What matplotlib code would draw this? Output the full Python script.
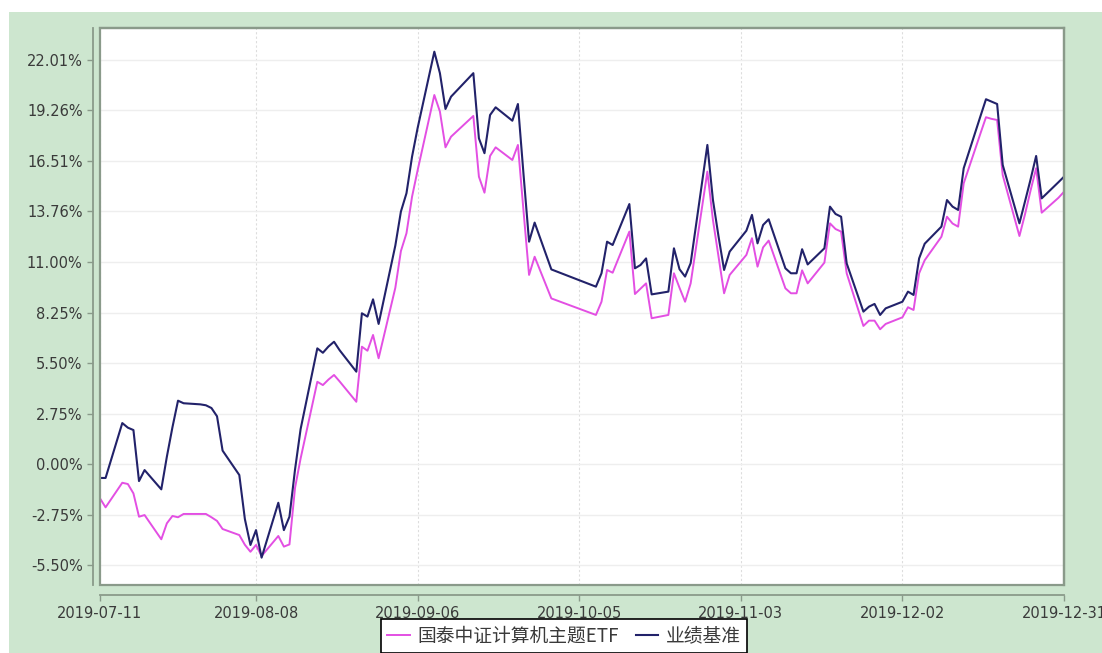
import numpy as np
import pandas as pd
import matplotlib
matplotlib.use("Agg")
import matplotlib.pyplot as plt
import matplotlib.dates as mdates
from matplotlib.patches import Rectangle

plt.rcParams['font.family'] = ['DejaVu Sans', 'Noto Sans CJK SC']

# trading days (SSE calendar: Mid-Autumn and National Day closed)
holidays = ['2019-09-13', '2019-10-01', '2019-10-02', '2019-10-03',
            '2019-10-04', '2019-10-07']
dates = pd.bdate_range('2019-07-11', '2019-12-31', freq='C', holidays=holidays)

# cumulative return, %
fund = [
    -1.87, -2.36, -1.02, -1.09, -1.60, -2.87, -2.78, -4.10, -3.23, -2.83, -2.90, -2.72, -2.72, -2.72, -2.90,
    -3.10, -3.54, -3.87, -4.40, -4.78, -4.41, -5.01, -3.92, -4.50, -4.38, -1.30, 0.30, 4.48, 4.30, 4.60,
    4.85, 4.50, 3.39, 6.39, 6.17, 7.03, 5.76,
    9.60, 11.60, 12.57, 14.56, 16.00, 20.10, 19.20, 17.25, 17.83, 18.96, 15.65, 14.78, 16.78, 17.25, 16.56,
    17.38, 13.80, 10.30, 11.29, 9.02,
    8.12, 8.84, 10.57, 10.42, 12.66, 9.26, 9.55, 9.84, 7.94, 8.12, 10.39, 9.60, 8.84, 9.84, 15.93, 13.29,
    11.30, 9.30,
    10.30, 11.39, 12.30, 10.75, 11.80, 12.17, 9.57, 9.30, 9.30, 10.55, 9.84, 10.97, 13.11, 12.80, 12.66,
    10.39, 7.52, 7.81, 7.81, 7.34, 7.63,
    7.99, 8.54, 8.39, 10.39, 11.10, 12.38, 13.47, 13.10, 12.93, 15.29, 18.00, 18.89, 18.80, 18.74, 15.74,
    12.42, 13.60, 14.90, 16.11, 13.69, 14.50, 14.83,
]
bench = [
    -0.76, -0.76, 2.23, 1.98, 1.85, -0.93, -0.33, -1.38, 0.40, 2.00, 3.45, 3.31, 3.25, 3.20, 3.05,
    2.60, 0.73, -0.60, -3.00, -4.41, -3.60, -5.10, -2.11, -3.60, -2.87, -0.30, 1.90, 6.30, 6.06, 6.40,
    6.66, 6.20, 5.03, 8.21, 8.03, 8.97, 7.63,
    11.90, 13.75, 14.75, 16.74, 18.30, 22.46, 21.29, 19.34, 20.01, 21.29, 17.74, 16.93, 19.01, 19.43, 18.70,
    19.61, 15.80, 12.11, 13.15, 10.60,
    9.66, 10.39, 12.11, 11.93, 14.16, 10.66, 10.84, 11.20, 9.24, 9.39, 11.75, 10.61, 10.21, 10.94, 17.38,
    14.38, 12.40, 10.57,
    11.57, 12.71, 13.57, 12.02, 13.02, 13.33, 10.66, 10.39, 10.39, 11.70, 10.87, 11.75, 14.02, 13.62, 13.47,
    10.93, 8.30, 8.57, 8.72, 8.12, 8.48,
    8.84, 9.39, 9.21, 11.20, 12.00, 12.93, 14.38, 14.02, 13.84, 16.11, 18.94, 19.87, 19.74, 19.61, 16.29,
    13.11, 14.30, 15.50, 16.78, 14.47, 15.35, 15.65,
]

yticks = [22.01, 19.26, 16.51, 13.76, 11.00, 8.25, 5.50, 2.75, 0.00, -2.75, -5.50]
xticks = ['2019-07-11', '2019-08-08', '2019-09-06', '2019-10-05',
          '2019-11-03', '2019-12-02', '2019-12-31']
names = ['国泰中证计算机主题ETF', '业绩基准']

green = '#cde6cf'
frame = '#8a9a8a'
txt = '#3a3a3a'

fig = plt.figure(figsize=(11.02, 6.53), dpi=100, facecolor='white')
fig.patches.append(Rectangle((9 / 1102, 0), 1, 1 - 12 / 653, transform=fig.transFigure,
                             facecolor=green, edgecolor='none', zorder=-10))

ax = fig.add_axes([100 / 1102, 1 - 585 / 653, 964 / 1102, 557 / 653])
ax.set_facecolor('white')

ax.plot(dates, fund, color='#e34fe3', lw=1.4, label=names[0], zorder=3)
ax.plot(dates, bench, color='#22226a', lw=1.5, label=names[1], zorder=4)

ax.set_xlim(pd.Timestamp('2019-07-11'), pd.Timestamp('2019-12-31'))
ax.set_ylim(-6.59, 23.75)

ax.set_yticks(yticks)
ax.set_yticklabels([f'{v:.2f}%' for v in yticks])
xt = pd.to_datetime(xticks)
ax.set_xticks(xt)
ax.set_xticklabels(xticks)

ax.grid(axis='y', color='#eeeeee', lw=1.0, ls='-')
ax.grid(axis='x', color='#dddddd', lw=0.8, ls=(0, (2, 2)))

for s in ['top', 'right']:
    ax.spines[s].set_color(frame)
    ax.spines[s].set_linewidth(1.6)
for s in ['left', 'bottom']:
    ax.spines[s].set_color(frame)
    ax.spines[s].set_linewidth(1.3)
ax.spines['left'].set_position(('outward', 5))
ax.spines['bottom'].set_position(('outward', 7))
ax.add_patch(Rectangle((0, 0), 1, 1, transform=ax.transAxes, fill=False,
                       edgecolor=frame, lw=1.6, clip_on=False, zorder=5))

ax.tick_params(axis='both', colors=frame, labelcolor=txt, labelsize=10.5, length=4, width=1)
ax.tick_params(axis='x', pad=4)

leg = fig.legend(loc='lower center', bbox_to_anchor=(564 / 1102, -0.014), ncol=2,
                 frameon=True, fancybox=False, edgecolor='black', facecolor='white',
                 framealpha=1, handlelength=1.2, handletextpad=0.4, columnspacing=0.9,
                 borderpad=0.35, prop={'family': ['Noto Sans CJK SC', 'DejaVu Sans'], 'size': 13.5})
leg.get_frame().set_linewidth(1.2)
for t in leg.get_texts():
    t.set_color(txt)

fig.savefig('out.png', dpi=100, facecolor=fig.get_facecolor())
